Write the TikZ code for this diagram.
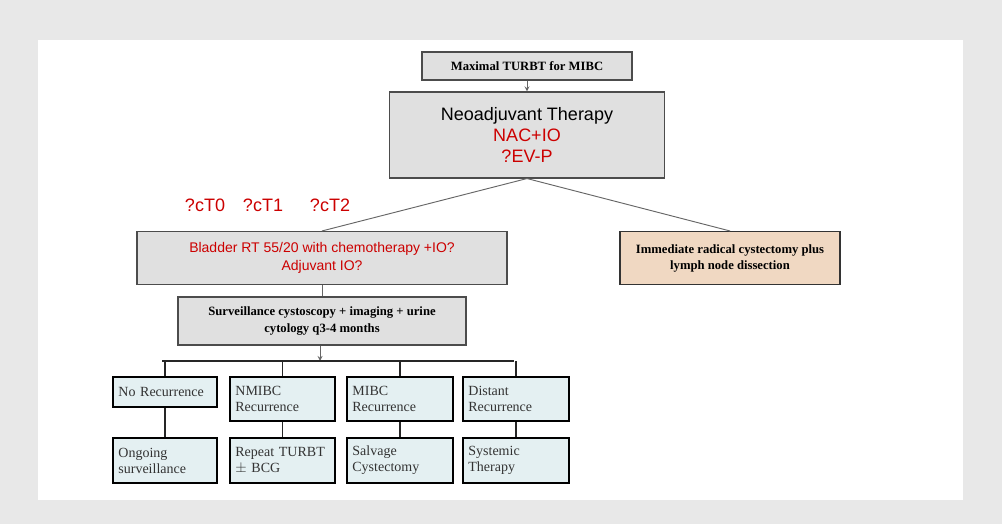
\documentclass[tikz,border=0pt]{standalone}
\usepackage{fontspec}
\setmainfont{Liberation Serif}
\setsansfont{Liberation Sans}
\definecolor{lblue}{HTML}{E4F0F2}
\definecolor{peach}{HTML}{F0D8C2}
\begin{document}
\begin{tikzpicture}[x=0.75pt,y=-0.75pt,
 gbox/.style={draw=black!70,fill=black!12,line width=0.8pt,inner sep=0pt,align=center},
 bbox/.style={draw=black,fill=lblue,line width=1.6pt,inner sep=4pt,align=left,anchor=north west,font=\fontsize{10.5}{12}\selectfont,text=black!80},
 ln/.style={draw=black!60,line width=0.7pt},
 con/.style={draw=black!85,line width=1.1pt},
 red/.style={text=red!80!black}]
\fill[black!9] (0,0) rectangle (1002,524);
\fill[white] (38,40) rectangle (963,500);
\node[gbox,minimum width=210*0.75pt,minimum height=28*0.75pt,font=\bfseries\fontsize{9.5}{10}\selectfont] (a) at (527,66) {Maximal TURBT for MIBC};
\node[gbox,minimum width=275*0.75pt,minimum height=86*0.75pt,font=\sffamily\fontsize{13.5}{15.5}\selectfont] (b) at (527,135) {Neoadjuvant Therapy\\\textcolor{red!80!black}{NAC+IO}\\\textcolor{red!80!black}{?EV-P}};
\draw[ln,->,>=stealth] (a) -- (b);
\node[red,font=\sffamily\fontsize{13.5}{15}\selectfont] (t0) at (205,205) {?cT0};
\node[red,font=\sffamily\fontsize{13.5}{15}\selectfont] (t1) at (263,205) {?cT1};
\node[red,font=\sffamily\fontsize{13.5}{15}\selectfont] (t2) at (330,205) {?cT2};
\node[gbox,minimum width=370*0.75pt,minimum height=53*0.75pt,font=\sffamily\fontsize{10.5}{13}\selectfont,text=red!80!black] (c) at (322,258) {Bladder RT 55/20 with chemotherapy +IO?\\Adjuvant IO?};
\node[gbox,draw=black!80,fill=peach,minimum width=220*0.75pt,minimum height=53*0.75pt,font=\bfseries\fontsize{9.5}{12}\selectfont] (d) at (730,258) {Immediate radical cystectomy plus\\lymph node dissection};
\draw[ln] (b.south) -- (c.north);
\draw[ln] (b.south) -- (d.north);
\node[gbox,minimum width=288*0.75pt,minimum height=48*0.75pt,font=\bfseries\fontsize{9.5}{13}\selectfont] (e) at (322,321) {Surveillance cystoscopy + imaging + urine\\cytology q3-4 months};
\draw[ln] (c) -- (e);
\coordinate (bus) at (320,361);
\draw[ln,->,>=stealth] (e.south-|bus) -- (bus);
\draw[con] (162,361) -- (514,361);
\foreach \n/\x/\w/\h/\t/\u in {1/112/104/30/{No Recurrence}/{Ongoing\\surveillance},2/229/105/44/{NMIBC\\Recurrence}/{Repeat TURBT\\$\pm$ BCG},3/346/106/44/{MIBC\\Recurrence}/{Salvage\\Cystectomy},4/462/106/44/{Distant\\Recurrence}/{Systemic\\Therapy}}{
  \node[bbox,minimum width=\w*0.75pt,minimum height=\h*0.75pt,text width=\w*0.75pt-8pt] (r\n) at (\x,376) {\t};
  \node[bbox,minimum width=\w*0.75pt,minimum height=45*0.75pt,text width=\w*0.75pt-8pt] (s\n) at (\x,437) {\u};
  \draw[con] (r\n.north|-bus) -- (r\n.north);
  \draw[con] (r\n.south) -- (s\n.north);
}
\end{tikzpicture}
\end{document}
